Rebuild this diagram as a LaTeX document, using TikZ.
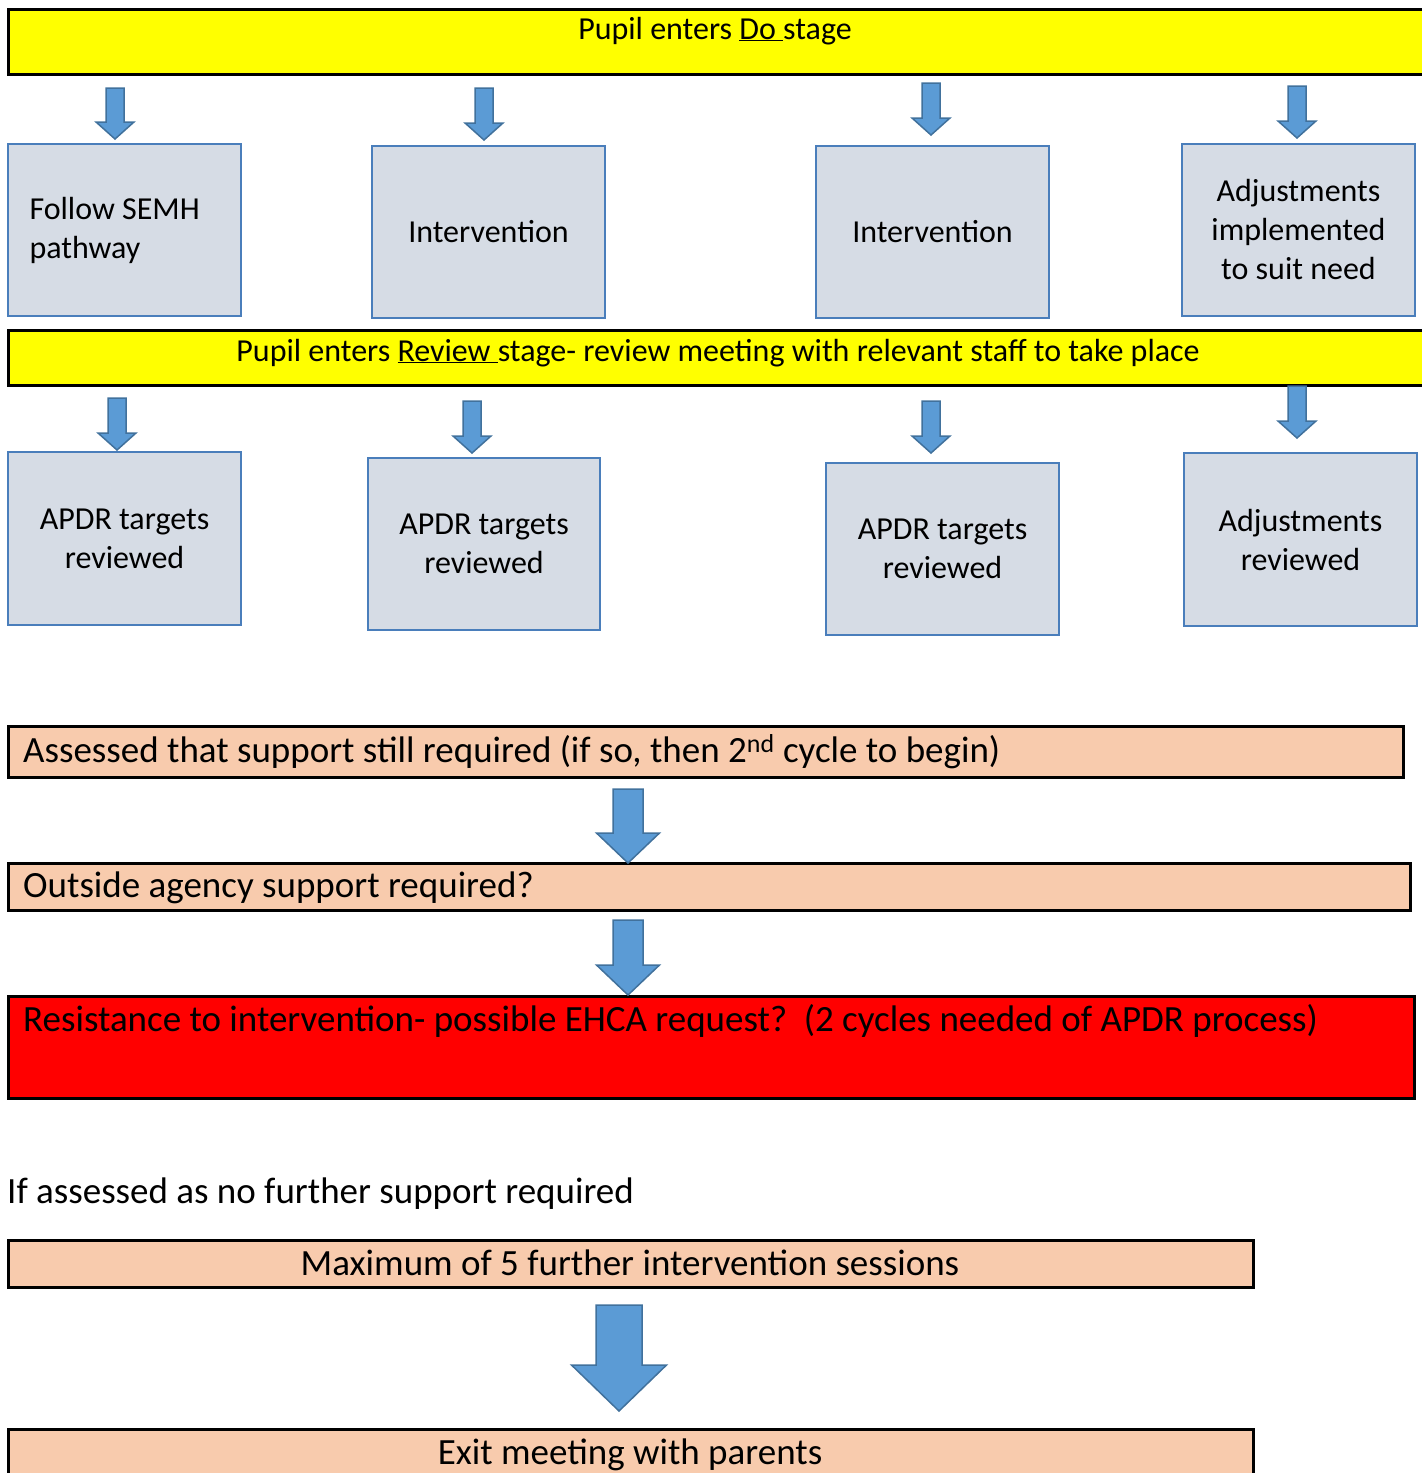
\documentclass[tikz,border=0pt]{standalone}
\usepackage{fontspec}
\setmainfont{Carlito}
\usetikzlibrary{positioning}
\definecolor{stageyellow}{HTML}{FFFF00}
\definecolor{boxgrey}{HTML}{D6DCE5}
\definecolor{boxedge}{HTML}{4A7EBB}
\definecolor{arrowfill}{HTML}{5B9BD5}
\definecolor{arrowedge}{HTML}{41719C}
\definecolor{peach}{HTML}{F8CBAD}
\definecolor{alarm}{HTML}{FF0000}
% block arrow: x, top, tip, half shaft, half head, head length
\newcommand{\blockarrow}[6]{%
  \filldraw[arrowbody] (#1-#4,#2) -- (#1+#4,#2) -- (#1+#4,#3-#6) -- (#1+#5,#3-#6)
    -- (#1,#3) -- (#1-#5,#3-#6) -- (#1-#4,#3-#6) -- cycle;}
\frenchspacing

\begin{document}
\begin{tikzpicture}[x=1pt,y=-1pt,
    every node/.style={font=\fontsize{32}{39}\selectfont},
    stagebar/.style={draw=black,line width=2.5pt,fill=stageyellow,anchor=north west,minimum width=1440pt,minimum height=#1},
    actbox/.style={draw=boxedge,line width=2pt,fill=boxgrey,anchor=north west,minimum width=233pt,minimum height=172pt,align=center,inner sep=0pt},
    flowbox/.style={draw=black,line width=2.5pt,fill=peach,anchor=north west,inner sep=0pt},
    bigtext/.style={font=\fontsize{37}{44}\selectfont,inner sep=0pt},
    arrowbody/.style={fill=arrowfill,draw=arrowedge,line width=1.5pt,line join=miter}]
  \useasboundingbox (0,0) rectangle (1422,1473);
  \clip (0,0) rectangle (1422,1473);

  \node[stagebar=65pt] (dobar) at (7,8) {};
  \node[anchor=base,inner sep=0pt] (dotext) at (715,39) {Pupil enters \underline{Do\ }stage};

  \node[actbox,align=flush left,text width=190pt] (semh) at (7,143) {Follow SEMH\\pathway};
  \node[actbox] (interva) at (371,145) {Intervention};
  \node[actbox] (intervb) at (815,145) {Intervention};
  \node[actbox] (adjust) at (1181,143) {Adjustments\\implemented\\to suit need};

  \node[stagebar=55pt] (reviewbar) at (7,329) {};
  \node[anchor=base,inner sep=0pt] (reviewtext) at (718,361) {Pupil enters \underline{Review\ }stage- review meeting with relevant staff to take place};

  \node[actbox,minimum height=173pt] (targeta) at (7,451) {APDR targets\\reviewed};
  \node[actbox,minimum width=232pt] (targetb) at (367,457) {APDR targets\\reviewed};
  \node[actbox] (targetc) at (825,462) {APDR targets\\reviewed};
  \node[actbox,minimum height=173pt] (adjreview) at (1183,452) {Adjustments\\reviewed};

  \foreach \ax/\ay/\az in {115/88/139,484/88/140,931/83/135,1297/86/138,
                           117/398/450,472/401/453,931/401/453,1297/386/438}
    \blockarrow{\ax}{\ay}{\az}{9}{19}{17};

  \node[flowbox,minimum width=1395pt,minimum height=51pt] (stillbox) at (7,725) {};
  \node[bigtext,anchor=base west] (stilltext) at (23,762) {Assessed that support still required (if so, then 2\textsuperscript{nd} cycle to begin)};
  \node[flowbox,minimum width=1402pt,minimum height=47pt] (agencybox) at (7,862) {};
  \node[bigtext,anchor=base west] (agencytext) at (23,897) {Outside agency support required?};
  \node[flowbox,fill=alarm,minimum width=1406pt,minimum height=102pt] (ehcabox) at (7,995) {};
  \node[bigtext,anchor=base west] (ehcatext) at (23,1031) {Resistance to intervention- possible EHCA request?\ \ (2 cycles needed of APDR process)};

  \blockarrow{628}{789}{863}{15}{31.5}{30}
  \blockarrow{628}{920}{995}{15}{31.5}{30}

  \node[bigtext,anchor=base west] (nofurther) at (7,1203) {If assessed as no further support required};
  \node[flowbox,minimum width=1245pt,minimum height=47pt] (maxbox) at (7,1239) {};
  \node[bigtext,anchor=base] (maxtext) at (630,1275) {Maximum of 5 further intervention sessions};
  \node[flowbox,minimum width=1245pt,minimum height=47pt] (exitbox) at (7,1428) {};
  \node[bigtext,anchor=base] (exittext) at (630,1464) {Exit meeting with parents};

  \blockarrow{619}{1305}{1411}{23}{47.5}{46}
\end{tikzpicture}
\end{document}
